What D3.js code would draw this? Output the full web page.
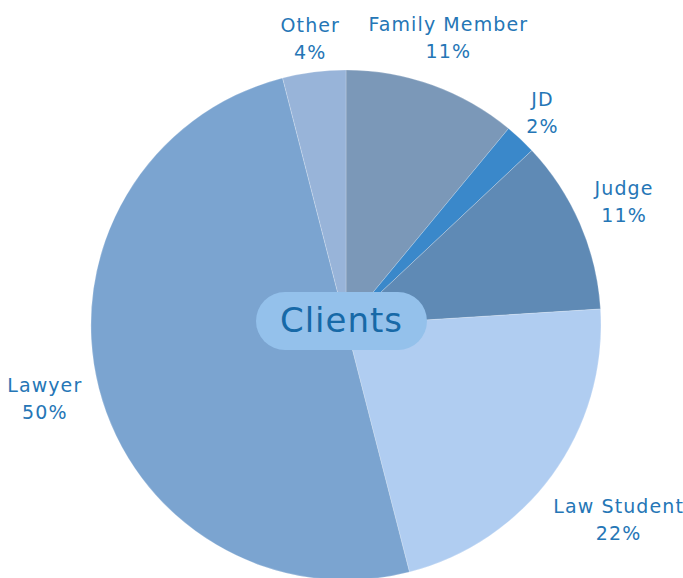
<!DOCTYPE html>
<html>
<head>
<meta charset="utf-8">
<script src="https://cdn.jsdelivr.net/npm/d3@7"></script>
<style>
  body { margin: 0; background: #fff; }
  svg { display: block; }
  .lbl { font-family: "DejaVu Sans", sans-serif; fill: #2576b6; letter-spacing: 1.1px; }
</style>
</head>
<body>
<svg width="683" height="578"></svg>
<script>
  // chart values
  var categories = ["Family Member", "JD", "Judge", "Law Student", "Lawyer", "Other"];
  var shares = [11, 2, 11, 22, 50, 4];
  var colors = ["#7b98b8", "#3a88ca", "#5f8ab5", "#b0cdf1", "#7ba4d0", "#98b4d9"];
  var title = "Clients";

  var width = 683, height = 578;
  var cx = 346, cy = 325, radius = 255;

  // how far out each data label sits from the centre (at its slice's mid angle)
  var labelRadius = 300;
  var labelDist = {
    "Other": 285, "Family Member": 302, "JD": 287,
    "Judge": 303, "Law Student": 337, "Lawyer": 311
  };

  var svg = d3.select("svg");
  var g = svg.append("g").attr("transform", "translate(" + cx + "," + cy + ")");

  var data = categories.map(function(c, i) { return {name: c, value: shares[i], color: colors[i]}; });

  var pie = d3.pie().sort(null).value(function(d) { return d.value; });
  var arc = d3.arc().innerRadius(0).outerRadius(radius);
  var arcs = pie(data);

  g.selectAll("path")
    .data(arcs)
    .enter().append("path")
    .attr("d", arc)
    .attr("fill", function(d) { return d.data.color; })
    .attr("stroke", "#ffffff")
    .attr("stroke-opacity", 0.35)
    .attr("stroke-width", 0.6);

  var lbl = g.selectAll("text.lbl")
    .data(arcs)
    .enter().append("text")
    .attr("class", "lbl")
    .attr("text-anchor", "middle")
    .attr("font-size", 19)
    .attr("transform", function(d) {
      var r = labelDist[d.data.name] || labelRadius;
      var a = (d.startAngle + d.endAngle) / 2;
      return "translate(" + (r * Math.sin(a)) + "," + (-r * Math.cos(a)) + ")";
    });
  lbl.append("tspan").attr("x", 0).attr("y", -10).text(function(d) { return d.data.name; });
  lbl.append("tspan").attr("x", 0).attr("y", 17).text(function(d) { return d.data.value + "%"; });

  // centre title pill
  var pw = 171, ph = 58;
  g.append("rect")
    .attr("x", -90).attr("y", -33)
    .attr("width", pw).attr("height", ph)
    .attr("rx", ph / 2)
    .attr("fill", "#94c1eb");
  g.append("text")
    .attr("x", -4.5).attr("y", 7)
    .attr("text-anchor", "middle")
    .attr("font-family", "DejaVu Sans, sans-serif")
    .attr("font-size", 34)
    .attr("letter-spacing", 1)
    .attr("fill", "#1769a7")
    .text(title);
</script>
</body>
</html>
